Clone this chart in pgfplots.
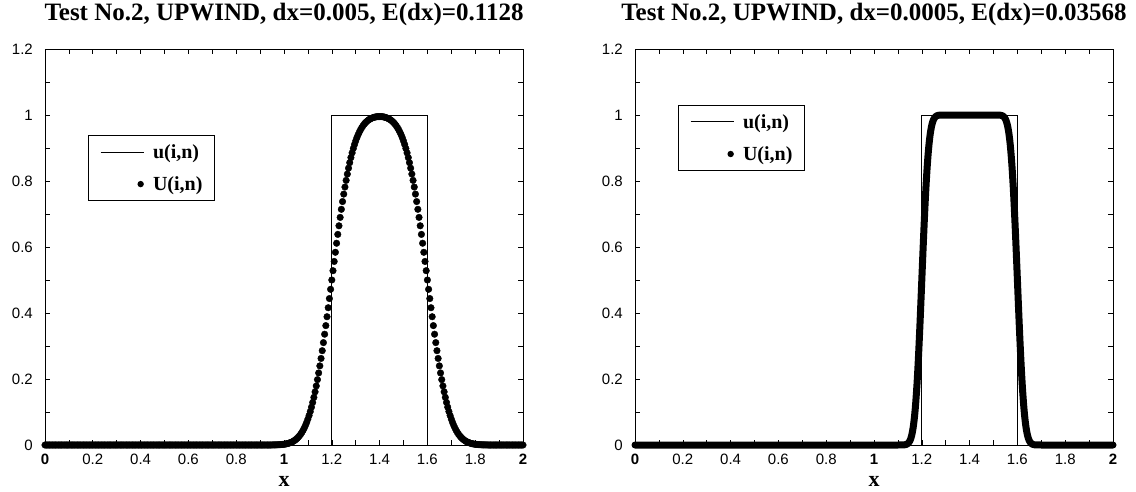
\documentclass[border=0pt]{standalone}
\usepackage{fontspec}
\setmainfont{Liberation Serif}
\setsansfont{Liberation Sans}
\usepackage{pgfplots}
\pgfplotsset{compat=1.18}

\pgfplotsset{
  upwindaxis/.style={
    scale only axis, width=478pt, height=396pt,
    xmin=0, xmax=2, ymin=0, ymax=1.2,
    clip=false,
    xtick={0,0.2,0.4,0.6,0.8,1,1.2,1.4,1.6,1.8,2},
    xticklabels={\textbf{0},0.2,0.4,0.6,0.8,\textbf{1},1.2,1.4,1.6,1.8,\textbf{2}},
    ytick={0,0.2,0.4,0.6,0.8,1,1.2},
    yticklabels={0,0.2,0.4,0.6,0.8,1,1.2},
    minor x tick num=1, minor y tick num=1,
    xtick pos=both, ytick pos=both,
    xticklabel pos=bottom, yticklabel pos=left,
    tick align=inside,
    major tick length=5pt, minor tick length=5pt,
    every tick/.style={black, line width=0.6pt},
    axis line style={line width=0.8pt},
    tick label style={font=\sffamily\fontsize{15}{15}\selectfont, inner sep=0pt},
    xticklabel style={anchor=base, yshift=-19pt},
    yticklabel style={anchor=east, xshift=-12pt},
    title style={font=\bfseries\fontsize{25}{25}\selectfont,
                 at={(axis description cs:0.5,1)}, anchor=base, yshift=23pt},
    xlabel style={font=\bfseries\fontsize{22}{22}\selectfont,
                  at={(axis description cs:0.5,0)}, anchor=base, yshift=-41pt},
    xlabel={x},
    legend cell align=left,
    legend style={anchor=north west, draw=black, line width=0.6pt,
                  font=\bfseries\fontsize{20}{20}\selectfont,
                  nodes={inner sep=0pt}, inner xsep=12pt, inner ysep=9pt,
                  column sep=9pt, row sep=16.8pt},
  },
  exactline/.style={black, line width=0.7pt,
    legend image code/.code={\draw[black, line width=0.7pt] (0pt,0pt) -- (43pt,0pt);}},
  dotlegend/.style={
    legend image code/.code={\path[draw=none, fill=none] (0pt,0pt) -- (43pt,0pt);
                             \fill[black, draw=none] (40pt,0pt) circle (3.2pt);}},
}

\begin{document}
\begin{tikzpicture}
\useasboundingbox (-45pt,-46pt) rectangle (1091pt,445pt);

% ---------- coarse grid, dx = 0.005 ----------
\begin{axis}[upwindaxis,
  title={Test No.2, UPWIND, dx=0.005, E(dx)=0.1128},
  legend style={at={(0.09,0.783)}}]
\addplot[exactline] coordinates {(0,0) (1.2,0) (1.2,1) (1.6,1) (1.6,0) (2,0)};
\addlegendentry{u(i,n)}
\addplot[only marks, mark=*, mark size=3.3pt, black, dotlegend] coordinates {
(0.000,0) (0.005,0) (0.010,0) (0.015,0) (0.020,0) (0.025,0) (0.030,0) (0.035,0) (0.040,0) (0.045,0)
(0.050,0) (0.055,0) (0.060,0) (0.065,0) (0.070,0) (0.075,0) (0.080,0) (0.085,0) (0.090,0) (0.095,0)
(0.100,0) (0.105,0) (0.110,0) (0.115,0) (0.120,0) (0.125,0) (0.130,0) (0.135,0) (0.140,0) (0.145,0)
(0.150,0) (0.155,0) (0.160,0) (0.165,0) (0.170,0) (0.175,0) (0.180,0) (0.185,0) (0.190,0) (0.195,0)
(0.200,0) (0.205,0) (0.210,0) (0.215,0) (0.220,0) (0.225,0) (0.230,0) (0.235,0) (0.240,0) (0.245,0)
(0.250,0) (0.255,0) (0.260,0) (0.265,0) (0.270,0) (0.275,0) (0.280,0) (0.285,0) (0.290,0) (0.295,0)
(0.300,0) (0.305,0) (0.310,0) (0.315,0) (0.320,0) (0.325,0) (0.330,0) (0.335,0) (0.340,0) (0.345,0)
(0.350,0) (0.355,0) (0.360,0) (0.365,0) (0.370,0) (0.375,0) (0.380,0) (0.385,0) (0.390,0) (0.395,0)
(0.400,0) (0.405,0) (0.410,0) (0.415,0) (0.420,0) (0.425,0) (0.430,0) (0.435,0) (0.440,0) (0.445,0)
(0.450,0) (0.455,0) (0.460,0) (0.465,0) (0.470,0) (0.475,0) (0.480,0) (0.485,0) (0.490,0) (0.495,0)
(0.500,0) (0.505,0) (0.510,0) (0.515,0) (0.520,0) (0.525,0) (0.530,0) (0.535,0) (0.540,0) (0.545,0)
(0.550,0) (0.555,0) (0.560,0) (0.565,0) (0.570,0) (0.575,0) (0.580,0) (0.585,0) (0.590,0) (0.595,0)
(0.600,0) (0.605,0) (0.610,0) (0.615,0) (0.620,0) (0.625,0) (0.630,0) (0.635,0) (0.640,0) (0.645,0)
(0.650,0) (0.655,0) (0.660,0) (0.665,0) (0.670,0) (0.675,0) (0.680,0) (0.685,0) (0.690,0) (0.695,0)
(0.700,0) (0.705,0) (0.710,0) (0.715,0) (0.720,0) (0.725,0) (0.730,0) (0.735,0) (0.740,0) (0.745,0)
(0.750,0) (0.755,0) (0.760,0) (0.765,0) (0.770,0) (0.775,0) (0.780,0) (0.785,0) (0.790,0) (0.795,0)
(0.800,0) (0.805,0) (0.810,0) (0.815,0) (0.820,0) (0.825,0) (0.830,0) (0.835,0) (0.840,0) (0.845,0)
(0.850,0) (0.855,0) (0.860,0) (0.865,0) (0.870,0) (0.875,0) (0.880,0) (0.885,0) (0.890,0) (0.895,0)
(0.900,0) (0.905,0) (0.910,0) (0.915,0) (0.920,0) (0.925,0) (0.930,0) (0.935,0) (0.940,0) (0.945,0)
(0.950,0.0002) (0.955,0.0003) (0.960,0.0003) (0.965,0.0004) (0.970,0.0006)
(0.975,0.0007) (0.980,0.0009) (0.985,0.0012) (0.990,0.0015) (0.995,0.0019)
(1.000,0.0023) (1.005,0.0029) (1.010,0.0036) (1.015,0.0044) (1.020,0.0055)
(1.025,0.0067) (1.030,0.0081) (1.035,0.0098) (1.040,0.0118) (1.045,0.0142)
(1.050,0.0169) (1.055,0.0202) (1.060,0.0239) (1.065,0.0281) (1.070,0.0330)
(1.075,0.0386) (1.080,0.0448) (1.085,0.0519) (1.090,0.0599) (1.095,0.0688)
(1.100,0.0787) (1.105,0.0896) (1.110,0.1015) (1.115,0.1147) (1.120,0.1290)
(1.125,0.1444) (1.130,0.1611) (1.135,0.1790) (1.140,0.1981) (1.145,0.2183)
(1.150,0.2398) (1.155,0.2623) (1.160,0.2858) (1.165,0.3103) (1.170,0.3357)
(1.175,0.3618) (1.180,0.3887) (1.185,0.4160) (1.190,0.4438) (1.195,0.4718)
(1.200,0.5000) (1.205,0.5282) (1.210,0.5562) (1.215,0.5840) (1.220,0.6114)
(1.225,0.6382) (1.230,0.6643) (1.235,0.6897) (1.240,0.7142) (1.245,0.7377)
(1.250,0.7603) (1.255,0.7817) (1.260,0.8019) (1.265,0.8210) (1.270,0.8389)
(1.275,0.8556) (1.280,0.8710) (1.285,0.8853) (1.290,0.8985) (1.295,0.9104)
(1.300,0.9213) (1.305,0.9312) (1.310,0.9401) (1.315,0.9480) (1.320,0.9551)
(1.325,0.9614) (1.330,0.9669) (1.335,0.9718) (1.340,0.9760) (1.345,0.9797)
(1.350,0.9829) (1.355,0.9855) (1.360,0.9878) (1.365,0.9897) (1.370,0.9913)
(1.375,0.9926) (1.380,0.9936) (1.385,0.9944) (1.390,0.9949) (1.395,0.9952)
(1.400,0.9953)
(1.405,0.9952) (1.410,0.9949) (1.415,0.9944) (1.420,0.9936) (1.425,0.9926)
(1.430,0.9913) (1.435,0.9897) (1.440,0.9878) (1.445,0.9855) (1.450,0.9829)
(1.455,0.9797) (1.460,0.9760) (1.465,0.9718) (1.470,0.9669) (1.475,0.9614)
(1.480,0.9551) (1.485,0.9480) (1.490,0.9401) (1.495,0.9312) (1.500,0.9213)
(1.505,0.9104) (1.510,0.8985) (1.515,0.8853) (1.520,0.8710) (1.525,0.8556)
(1.530,0.8389) (1.535,0.8210) (1.540,0.8019) (1.545,0.7817) (1.550,0.7603)
(1.555,0.7377) (1.560,0.7142) (1.565,0.6897) (1.570,0.6643) (1.575,0.6382)
(1.580,0.6114) (1.585,0.5840) (1.590,0.5562) (1.595,0.5282) (1.600,0.5000)
(1.605,0.4718) (1.610,0.4438) (1.615,0.4160) (1.620,0.3887) (1.625,0.3618)
(1.630,0.3357) (1.635,0.3103) (1.640,0.2858) (1.645,0.2623) (1.650,0.2398)
(1.655,0.2183) (1.660,0.1981) (1.665,0.1790) (1.670,0.1611) (1.675,0.1444)
(1.680,0.1290) (1.685,0.1147) (1.690,0.1015) (1.695,0.0896) (1.700,0.0787)
(1.705,0.0688) (1.710,0.0599) (1.715,0.0519) (1.720,0.0448) (1.725,0.0386)
(1.730,0.0330) (1.735,0.0281) (1.740,0.0239) (1.745,0.0202) (1.750,0.0169)
(1.755,0.0142) (1.760,0.0118) (1.765,0.0098) (1.770,0.0081) (1.775,0.0067)
(1.780,0.0055) (1.785,0.0044) (1.790,0.0036) (1.795,0.0029) (1.800,0.0023)
(1.805,0.0019) (1.810,0.0015) (1.815,0.0012) (1.820,0.0009) (1.825,0.0007)
(1.830,0.0006) (1.835,0.0004) (1.840,0.0003) (1.845,0.0003) (1.850,0.0002)
(1.855,0) (1.860,0) (1.865,0) (1.870,0) (1.875,0) (1.880,0) (1.885,0) (1.890,0) (1.895,0) (1.900,0)
(1.905,0) (1.910,0) (1.915,0) (1.920,0) (1.925,0) (1.930,0) (1.935,0) (1.940,0) (1.945,0) (1.950,0)
(1.955,0) (1.960,0) (1.965,0) (1.970,0) (1.975,0) (1.980,0) (1.985,0) (1.990,0) (1.995,0) (2.000,0)
};
\addlegendentry{U(i,n)}
\end{axis}

% ---------- fine grid, dx = 0.0005 ----------
\begin{axis}[upwindaxis, at={(590pt,0pt)},
  title={Test No.2, UPWIND, dx=0.0005, E(dx)=0.03568},
  legend style={at={(0.09,0.859)}}]
\addplot[exactline] coordinates {(0,0) (1.2,0) (1.2,1) (1.6,1) (1.6,0) (2,0)};
\addlegendentry{u(i,n)}
\addplot[black, line width=7pt, line cap=round, line join=round, dotlegend] coordinates {
(0,0) (1.1000,0)
(1.1200,0.0002) (1.1225,0.0003) (1.1250,0.0004) (1.1275,0.0006) (1.1300,0.0009)
(1.1325,0.0013) (1.1350,0.0018) (1.1375,0.0026) (1.1400,0.0037) (1.1425,0.0051)
(1.1450,0.0070) (1.1475,0.0095) (1.1500,0.0127) (1.1525,0.0168) (1.1550,0.0222)
(1.1575,0.0287) (1.1600,0.0369) (1.1625,0.0469) (1.1650,0.0588) (1.1675,0.0732)
(1.1700,0.0899) (1.1725,0.1095) (1.1750,0.1319) (1.1775,0.1573) (1.1800,0.1857)
(1.1825,0.2170) (1.1850,0.2513) (1.1875,0.2881) (1.1900,0.3275) (1.1925,0.3687)
(1.1950,0.4116) (1.1975,0.4555) (1.2000,0.5000) (1.2025,0.5445) (1.2050,0.5884)
(1.2075,0.6313) (1.2100,0.6725) (1.2125,0.7119) (1.2150,0.7487) (1.2175,0.7830)
(1.2200,0.8143) (1.2225,0.8427) (1.2250,0.8681) (1.2275,0.8905) (1.2300,0.9101)
(1.2325,0.9268) (1.2350,0.9412) (1.2375,0.9531) (1.2400,0.9631) (1.2425,0.9713)
(1.2450,0.9778) (1.2475,0.9832) (1.2500,0.9873) (1.2525,0.9905) (1.2550,0.9930)
(1.2575,0.9949) (1.2600,0.9963) (1.2625,0.9974) (1.2650,0.9982) (1.2675,0.9987)
(1.2700,0.9991) (1.2725,0.9994) (1.2750,0.9996) (1.2775,0.9997) (1.2800,0.9998)
(1.4000,1.0000)
(1.5200,0.9998) (1.5225,0.9997) (1.5250,0.9996) (1.5275,0.9994) (1.5300,0.9991)
(1.5325,0.9987) (1.5350,0.9982) (1.5375,0.9974) (1.5400,0.9963) (1.5425,0.9949)
(1.5450,0.9930) (1.5475,0.9905) (1.5500,0.9873) (1.5525,0.9832) (1.5550,0.9778)
(1.5575,0.9713) (1.5600,0.9631) (1.5625,0.9531) (1.5650,0.9412) (1.5675,0.9268)
(1.5700,0.9101) (1.5725,0.8905) (1.5750,0.8681) (1.5775,0.8427) (1.5800,0.8143)
(1.5825,0.7830) (1.5850,0.7487) (1.5875,0.7119) (1.5900,0.6725) (1.5925,0.6313)
(1.5950,0.5884) (1.5975,0.5445) (1.6000,0.5000) (1.6025,0.4555) (1.6050,0.4116)
(1.6075,0.3687) (1.6100,0.3275) (1.6125,0.2881) (1.6150,0.2513) (1.6175,0.2170)
(1.6200,0.1857) (1.6225,0.1573) (1.6250,0.1319) (1.6275,0.1095) (1.6300,0.0899)
(1.6325,0.0732) (1.6350,0.0588) (1.6375,0.0469) (1.6400,0.0369) (1.6425,0.0287)
(1.6450,0.0222) (1.6475,0.0168) (1.6500,0.0127) (1.6525,0.0095) (1.6550,0.0070)
(1.6575,0.0051) (1.6600,0.0037) (1.6625,0.0026) (1.6650,0.0018) (1.6675,0.0013)
(1.6700,0.0009) (1.6725,0.0006) (1.6750,0.0004) (1.6775,0.0003) (1.6800,0.0002)
(1.7000,0) (2,0)
};
\addlegendentry{U(i,n)}
\end{axis}
\end{tikzpicture}
\end{document}
